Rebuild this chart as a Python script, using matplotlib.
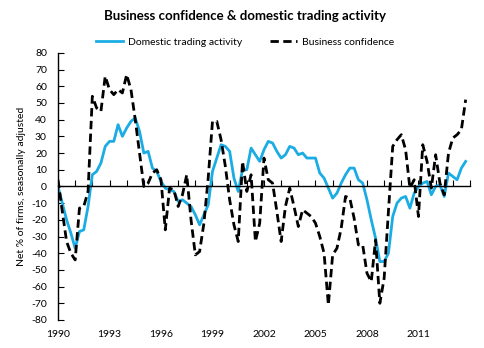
import matplotlib
matplotlib.use("Agg")
import matplotlib.pyplot as plt
import numpy as np

start_year = 1990
quarters_per_year = 4

domestic_trading = [
    0, -10, -20, -28,
    -37, -27, -26, -12,
    7, 9, 14, 24,
    27, 27, 37, 30,
    35, 39, 41, 33,
    20, 21, 11, 9,
    3, -1, -2, -3,
    -9, -8, -10, -12,
    -17, -23, -17, -11,
    9, 17, 25, 24,
    21, 5, -3, 10,
    10, 23, 19, 15,
    22, 27, 26, 21,
    17, 19, 24, 23,
    19, 20, 17, 17,
    17, 8, 5, -1,
    -7, -4, 2, 7,
    11, 11, 4, 2,
    -8, -20, -31, -45,
    -45, -40, -18, -10,
    -7, -6, -13, -4,
    0, 2, 3, -5,
    0, 1, -6, 8,
    6, 4, 11, 15,
]

business_confidence = [
    4, -15, -33, -40,
    -44, -13, -12, -3,
    54, 47, 45, 66,
    58, 55, 58, 56,
    67, 58, 40, 20,
    0, 2, 8, 10,
    4, -26, -1, -2,
    -12, -5, 7, -20,
    -41, -39, -22, 5,
    39, 39, 28, 12,
    -8, -23, -33, 15,
    -3, 7, -33, -22,
    17, 4, 2, -15,
    -33, -12, -1, -12,
    -24, -14, -16, -18,
    -22, -30, -40, -71,
    -41, -37, -25, -6,
    -7, -19, -35, -35,
    -52, -57, -32, -70,
    -55, -15, 24, 28,
    31, 22, -1, 4,
    -18, 25, 15, -1,
    19, 2, -5, 20,
    29, 31, 34, 52,
]

year_labels = [1990, 1993, 1996, 1999, 2002, 2005, 2008, 2011]
y_ticks = list(range(-80, 81, 10))

x = start_year + np.arange(len(domestic_trading)) / quarters_per_year

fig = plt.figure(figsize=(4.85, 3.48), dpi=100)
ax = fig.add_axes([0.1196, 0.0805, 0.969 - 0.1196, 0.848 - 0.0805])

font = "Lato"
ax.plot(x, domestic_trading, color="#1BACE4", lw=2.0, label="Domestic trading activity")
ax.plot(x, business_confidence, color="black", lw=2.0, ls=(0, (3, 1.6)),
        label="Business confidence")

ax.set_xlim(1990, 2014)
ax.set_ylim(-80, 80)
ax.set_yticks(y_ticks)
ax.set_yticklabels([str(v) for v in y_ticks], fontsize=7.5, family=font)
ax.tick_params(axis="y", direction="in", length=4, width=0.8, pad=8)

for s in ["top", "right"]:
    ax.spines[s].set_visible(False)
ax.spines["left"].set_linewidth(1.0)
ax.spines["bottom"].set_position(("data", 0))
ax.spines["bottom"].set_linewidth(1.0)
ax.set_xticks(np.arange(1990, 2015, 1))
ax.tick_params(axis="x", direction="in", length=4, width=0.8, labelbottom=False)

sec = ax.secondary_xaxis(0)
sec.set_xticks(year_labels)
sec.set_xticklabels([str(v) for v in year_labels], fontsize=7.5, family=font)
sec.tick_params(length=0, pad=7)
sec.spines["bottom"].set_visible(False)

ax.set_ylabel("Net % of firms, seasonally adjusted", fontsize=7.5, family=font, labelpad=4)

fig.text(0.505, 0.955, "Business confidence & domestic trading activity",
         ha="center", va="center", fontsize=9.5, fontweight="bold", family=font)
leg = fig.legend(loc="center", bbox_to_anchor=(0.505, 0.878), ncol=2, frameon=False,
                 prop={"family": font, "size": 7.5}, handlelength=2.6,
                 columnspacing=2.6, handletextpad=0.5)

fig.savefig("out.png", dpi=100)
